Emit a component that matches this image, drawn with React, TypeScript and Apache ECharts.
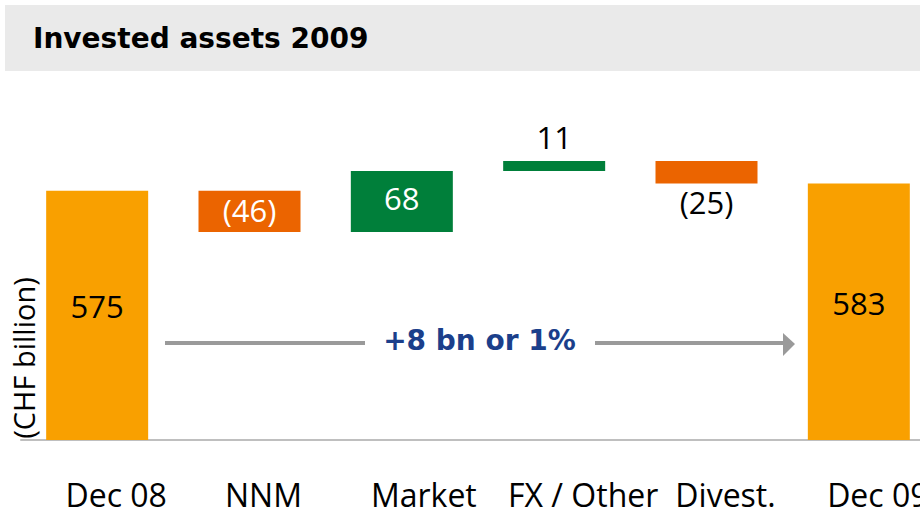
import React, { useEffect, useRef } from "react";
import * as echarts from "echarts";

const categories = ["Dec 08", "NNM", "Market", "FX / Other", "Divest.", "Dec 09"];
const startValue = 575;
const deltas = [-46, 68, 11, -25];
const endValue = 583;
const changeText = "+8 bn or 1%";
const unitText = "(CHF billion)";
const titleText = "Invested assets 2009";

const ORANGE = "#F9A000";
const RED = "#EB6400";
const GREEN = "#007F3A";
const FONT = "'Open Sans', 'Noto Sans', sans-serif";
const BOLD_FONT = "'DejaVu Sans', sans-serif";
const labelShift = [19, 14, 22, 29, 19, 19];

export default function App() {
  const ref = useRef<HTMLDivElement>(null);
  useEffect(() => {
    if (!ref.current) return;
    const chart = echarts.init(ref.current, null, { renderer: "svg" });

    const n = categories.length;
    const baseData: any[] = new Array(n).fill("-");
    const deltaData: any[] = new Array(n).fill("-");
    const totalData: any[] = new Array(n).fill("-");
    totalData[0] = { value: startValue };
    totalData[n - 1] = { value: endValue };
    let running = startValue;
    deltas.forEach((d, i) => {
      const idx = i + 1;
      baseData[idx] = d < 0 ? running + d : running;
      const neg = d < 0;
      const big = Math.abs(d) > 30;
      const txt = neg ? `(${Math.abs(d)})` : `${d}`;
      deltaData[idx] = {
        value: Math.abs(d),
        itemStyle: { color: neg ? RED : GREEN },
        label: big
          ? { show: true, position: "inside", color: "#fff", formatter: txt, offset: [0, neg ? -1 : -4] }
          : { show: true, position: neg ? "bottom" : "top", color: "#000", formatter: txt, distance: neg ? 3 : 9 },
      };
      running += d;
    });

    const rich: any = {};
    labelShift.forEach((s, i) => {
      rich["s" + i] = { fontSize: 32, lineHeight: 30, fontFamily: FONT, color: "#000", padding: [0, 0, 0, s * 2] };
    });

    chart.setOption({
      animation: false,
      grid: { left: 21, top: 125, width: 914, height: 315, outerBoundsMode: "none", containLabel: false },
      xAxis: {
        type: "category",
        data: categories,
        axisLine: { show: true, lineStyle: { color: "#BFBFBF", width: 2 } },
        axisTick: { show: false },
        axisLabel: {
          interval: 0,
          margin: 39,
          hideOverlap: false,
          formatter: (v: string, i: number) => `{s${i}|${v}}`,
          rich,
        },
      },
      yAxis: { type: "value", min: 298, max: 648, show: false },
      series: [
        {
          type: "bar",
          stack: "wf",
          barWidth: 102,
          data: baseData,
          itemStyle: { color: "transparent" },
          silent: true,
        },
        {
          type: "bar",
          stack: "wf",
          barWidth: 102,
          data: deltaData,
          label: { fontSize: 31, fontFamily: FONT },
        },
        {
          type: "bar",
          barWidth: 102,
          barGap: "-100%",
          data: totalData,
          itemStyle: { color: ORANGE },
          label: {
            show: true,
            position: "inside",
            offset: [0, -9],
            color: "#000",
            fontSize: 31,
            fontFamily: FONT,
          },
        },
      ],
      graphic: [
        { type: "rect", shape: { x: 5, y: 5, width: 915, height: 66 }, style: { fill: "#EAEAEA" }, z: -1 },
        {
          type: "text",
          x: 33,
          y: 38,
          style: { text: titleText, fontSize: 28, fontWeight: "bold", fontFamily: BOLD_FONT, fill: "#000", verticalAlign: "middle" },
        },
        {
          type: "text",
          x: 23,
          y: 358,
          rotation: Math.PI / 2,
          style: { text: unitText, fontSize: 29, fontFamily: FONT, fill: "#000", align: "center", verticalAlign: "middle" },
        },
        { type: "line", shape: { x1: 165, y1: 343, x2: 365, y2: 343 }, style: { stroke: "#9A9A9A", lineWidth: 4 } },
        { type: "line", shape: { x1: 595, y1: 343, x2: 785, y2: 343 }, style: { stroke: "#9A9A9A", lineWidth: 4 } },
        { type: "polygon", shape: { points: [[783, 333], [795, 344], [783, 356]] }, style: { fill: "#9A9A9A" } },
        {
          type: "text",
          x: 479.5,
          y: 340,
          style: { text: changeText, fontSize: 28, fontWeight: "bold", fontFamily: BOLD_FONT, fill: "#1B3F8B", align: "center", verticalAlign: "middle" },
        },
      ],
    });
    return () => chart.dispose();
  }, []);
  return <div ref={ref} style={{ position: "absolute", left: 0, top: 0, width: 920, height: 511 }} />;
}
